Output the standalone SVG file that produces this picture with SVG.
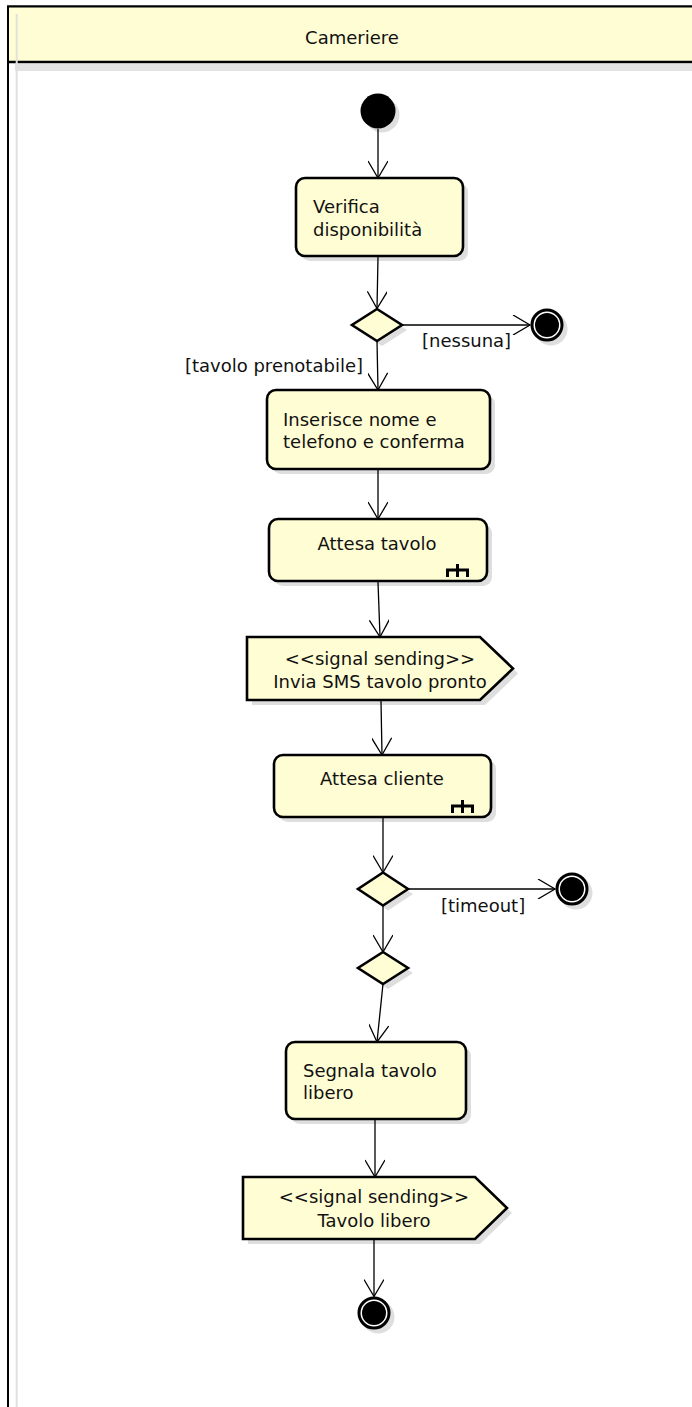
<svg xmlns="http://www.w3.org/2000/svg" width="692" height="1407" viewBox="0 0 692 1407">
<style>
.node{fill:#FFFDD4;stroke:#000;stroke-width:2.6}
.sh{fill:#dedede;stroke:none}
.txt{font-family:"DejaVu Sans",Verdana,sans-serif;font-size:18px;fill:#111}
.mid{text-anchor:middle}
.edge{fill:none;stroke:#000;stroke-width:1.3}
.rake{fill:none;stroke:#000;stroke-width:3}
</style>
<defs>
<marker id="open" viewBox="0 0 20 20" refX="18" refY="10" markerWidth="20" markerHeight="20" markerUnits="userSpaceOnUse" orient="auto">
<path d="M1,0 L18,10 L1,20" fill="none" stroke="#000" stroke-width="1.3"/>
</marker>
</defs>
<rect width="692" height="1407" fill="#fff"/>
<g id="lane">
<rect x="8" y="6.5" width="700" height="1420" fill="#fff" stroke="#000" stroke-width="2"/>
<rect x="8" y="6.5" width="700" height="55.5" fill="#FFFDD4" stroke="#000" stroke-width="2"/>
<line x1="8" y1="62" x2="700" y2="62" stroke="#000" stroke-width="2.7"/>
<rect x="15" y="64" width="690" height="7" fill="#e2e2e2"/>
<line x1="16.7" y1="14" x2="16.7" y2="1407" stroke="#e0e0e0" stroke-width="2"/>
<text class="txt mid" x="352" y="44">Cameriere</text>
</g>
<g id="start">
<circle class="sh" cx="382" cy="115" r="17.5"/>
<circle cx="378" cy="111" r="17.5" fill="#000"/>
</g>
<g id="verifica">
<rect class="sh" x="301" y="183" width="167" height="78" rx="9"/>
<rect class="node" x="296" y="178" width="167" height="78" rx="9"/>
<text class="txt" x="313" y="213">Verifica</text>
<text class="txt" x="313" y="236">disponibilità</text>
</g>
<g id="decision1">
<polygon class="sh" points="382,314 407,330 382,346 357,330"/>
<polygon class="node" points="377,309 402,325 377,341 352,325"/>
</g>
<g id="final1">
<circle class="sh" cx="551" cy="329" r="16.5"/>
<circle cx="547" cy="325" r="15" fill="#fff" stroke="#000" stroke-width="3"/>
<circle cx="547" cy="325" r="12" fill="#000"/>
</g>
<g id="inserisce">
<rect class="sh" x="272" y="395" width="223" height="79" rx="9"/>
<rect class="node" x="267" y="390" width="223" height="79" rx="9"/>
<text class="txt" x="283" y="426">Inserisce nome e</text>
<text class="txt" x="283" y="448">telefono e conferma</text>
</g>
<g id="attesa-tavolo">
<rect class="sh" x="274" y="524" width="218" height="62" rx="9"/>
<rect class="node" x="269" y="519" width="218" height="62" rx="9"/>
<text class="txt mid" x="377" y="550">Attesa tavolo</text>
<path class="rake" d="M457.5,564 V577 M447.5,577 V570 H467.5 V577"/>
</g>
<g id="sms">
<polygon class="sh" points="252,642 485,642 518,673.5 485,705 252,705"/>
<polygon class="node" points="247,637 480,637 513,668.5 480,700 247,700"/>
<text class="txt mid" x="380" y="665">&lt;&lt;signal sending&gt;&gt;</text>
<text class="txt mid" x="380" y="688">Invia SMS tavolo pronto</text>
</g>
<g id="attesa-cliente">
<rect class="sh" x="279" y="760" width="217" height="62" rx="9"/>
<rect class="node" x="274" y="755" width="217" height="62" rx="9"/>
<text class="txt mid" x="382" y="785">Attesa cliente</text>
<path class="rake" d="M462.5,800 V813 M452.5,813 V806 H472.5 V813"/>
</g>
<g id="decision2">
<polygon class="sh" points="388,878 413,894 388,910.5 363,894"/>
<polygon class="node" points="383,872.5 408,889 383,905.5 358,889"/>
</g>
<g id="final2">
<circle class="sh" cx="576" cy="893" r="16.5"/>
<circle cx="572" cy="889" r="15" fill="#fff" stroke="#000" stroke-width="3"/>
<circle cx="572" cy="889" r="12" fill="#000"/>
</g>
<g id="merge">
<polygon class="sh" points="388,957 413,973 388,989 363,973"/>
<polygon class="node" points="383,952 408,968 383,984 358,968"/>
</g>
<g id="segnala">
<rect class="sh" x="291" y="1047" width="180" height="77" rx="9"/>
<rect class="node" x="286" y="1042" width="180" height="77" rx="9"/>
<text class="txt" x="303" y="1077">Segnala tavolo</text>
<text class="txt" x="303" y="1099">libero</text>
</g>
<g id="tavolo-libero">
<polygon class="sh" points="248,1182 480,1182 512,1213 480,1244 248,1244"/>
<polygon class="node" points="243,1177 475,1177 507,1208 475,1239 243,1239"/>
<text class="txt mid" x="374" y="1203">&lt;&lt;signal sending&gt;&gt;</text>
<text class="txt mid" x="374" y="1227">Tavolo libero</text>
</g>
<g id="final3">
<circle class="sh" cx="378" cy="1317" r="16.5"/>
<circle cx="374" cy="1313" r="15" fill="#fff" stroke="#000" stroke-width="3"/>
<circle cx="374" cy="1313" r="12" fill="#000"/>
</g>
<g id="connectors">
<line class="edge" x1="378" y1="129" x2="378" y2="178" marker-end="url(#open)"/>
<line class="edge" x1="378" y1="257" x2="377" y2="308.5" marker-end="url(#open)"/>
<line class="edge" x1="402" y1="325" x2="530" y2="325" marker-end="url(#open)"/>
<text class="txt" x="422" y="347">[nessuna]</text>
<line class="edge" x1="377" y1="341" x2="378" y2="390" marker-end="url(#open)"/>
<text class="txt" x="363" y="372" text-anchor="end">[tavolo prenotabile]</text>
<line class="edge" x1="378" y1="470" x2="378" y2="519" marker-end="url(#open)"/>
<line class="edge" x1="378" y1="582" x2="380" y2="637" marker-end="url(#open)"/>
<line class="edge" x1="381" y1="701" x2="382" y2="755" marker-end="url(#open)"/>
<line class="edge" x1="383" y1="818" x2="383" y2="872.5" marker-end="url(#open)"/>
<line class="edge" x1="408" y1="889" x2="555" y2="889" marker-end="url(#open)"/>
<text class="txt" x="441" y="912">[timeout]</text>
<line class="edge" x1="383" y1="905.5" x2="383" y2="952" marker-end="url(#open)"/>
<line class="edge" x1="383" y1="984" x2="377" y2="1042" marker-end="url(#open)"/>
<line class="edge" x1="375" y1="1120" x2="375" y2="1177" marker-end="url(#open)"/>
<line class="edge" x1="374" y1="1240" x2="374" y2="1296.5" marker-end="url(#open)"/>
</g>
</svg>
